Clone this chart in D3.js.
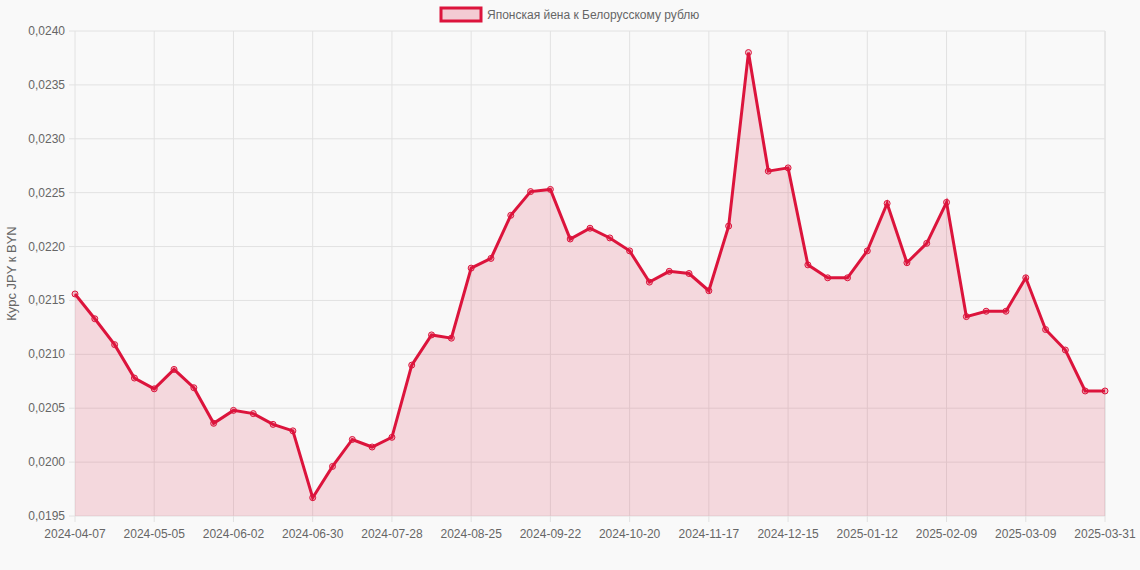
<!DOCTYPE html>
<html><head><meta charset="utf-8">
<script src="https://cdn.jsdelivr.net/npm/d3@7"></script>
<style>body{margin:0;background:#f9f9f9;font-family:"Liberation Sans",Arial,sans-serif}</style>
</head><body><svg id="c" width="1140" height="570"></svg>
<script>
// weekly JPY->BYN rates
const values = [0.02156,0.02133,0.02109,0.02078,0.02068,0.02086,0.02069,0.02036,0.02048,0.02045,
0.02035,0.02029,0.01967,0.01996,0.02021,0.02014,0.02023,0.02090,0.02118,0.02115,
0.02180,0.02189,0.02229,0.02251,0.02253,0.02207,0.02217,0.02208,0.02196,0.02167,
0.02177,0.02175,0.02159,0.02219,0.02380,0.02270,0.02273,0.02183,0.02171,0.02171,
0.02196,0.02240,0.02185,0.02203,0.02241,0.02135,0.02140,0.02140,0.02171,0.02123,
0.02104,0.02066,0.02066];
const tickLabels = {0:"2024-04-07",4:"2024-05-05",8:"2024-06-02",12:"2024-06-30",16:"2024-07-28",
20:"2024-08-25",24:"2024-09-22",28:"2024-10-20",32:"2024-11-17",36:"2024-12-15",
40:"2025-01-12",44:"2025-02-09",48:"2025-03-09",52:"2025-03-31"};
const yTicks = d3.range(0.0195, 0.02401, 0.0005);

const svg = d3.select('#c');
const L=75,R=1105,T=31,B=516;
const x = d3.scaleLinear().domain([0, values.length-1]).range([L,R]);
const y = d3.scaleLinear().domain([0.0195,0.0240]).range([B,T]);

// grid
svg.append('g').selectAll('line').data(d3.range(values.length).filter(i=>i%4==0))
  .join('line').attr('x1',d=>x(d)).attr('x2',d=>x(d)).attr('y1',T).attr('y2',B+6).attr('stroke','#e2e2e2');
svg.append('g').selectAll('line').data(yTicks)
  .join('line').attr('x1',L-6).attr('x2',R).attr('y1',d=>y(d)).attr('y2',d=>y(d)).attr('stroke','#e2e2e2');
svg.append('line').attr('x1',R).attr('x2',R).attr('y1',T).attr('y2',B).attr('stroke','#e2e2e2');

svg.append('g').selectAll('text').data(yTicks).join('text')
  .attr('x',L-10).attr('y',d=>y(d)+4).attr('text-anchor','end').attr('font-size',12).attr('fill','#666')
  .text(d=>d.toFixed(4).replace('.',','));
svg.append('g').selectAll('text').data(Object.keys(tickLabels).map(Number)).join('text')
  .attr('x',d=>x(d)).attr('y',B+22).attr('text-anchor','middle').attr('font-size',12).attr('fill','#666')
  .text(d=>tickLabels[d]);
svg.append('text').attr('transform',`translate(16,${(T+B)/2}) rotate(-90)`).attr('text-anchor','middle')
  .attr('font-size',13).attr('fill','#666').text('Курс JPY к BYN');

const area = d3.area().x((d,i)=>x(i)).y0(B).y1(d=>y(d));
const line = d3.line().x((d,i)=>x(i)).y(d=>y(d));
svg.append('path').datum(values).attr('d',area).attr('fill','rgba(220,20,60,0.14)');
svg.append('path').datum(values).attr('d',line).attr('fill','none').attr('stroke','#dc143c').attr('stroke-width',3);
svg.append('g').selectAll('circle').data(values).join('circle')
  .attr('cx',(d,i)=>x(i)).attr('cy',d=>y(d)).attr('r',3)
  .attr('fill','rgba(220,20,60,0.25)').attr('stroke','#dc143c').attr('stroke-width',1);

// legend
svg.append('rect').attr('x',441).attr('y',8).attr('width',40).attr('height',13)
  .attr('fill','rgba(220,20,60,0.2)').attr('stroke','#dc143c').attr('stroke-width',3);
svg.append('text').attr('x',487).attr('y',19).attr('font-size',12).attr('fill','#666')
  .text('Японская йена к Белорусскому рублю');
</script></body></html>
